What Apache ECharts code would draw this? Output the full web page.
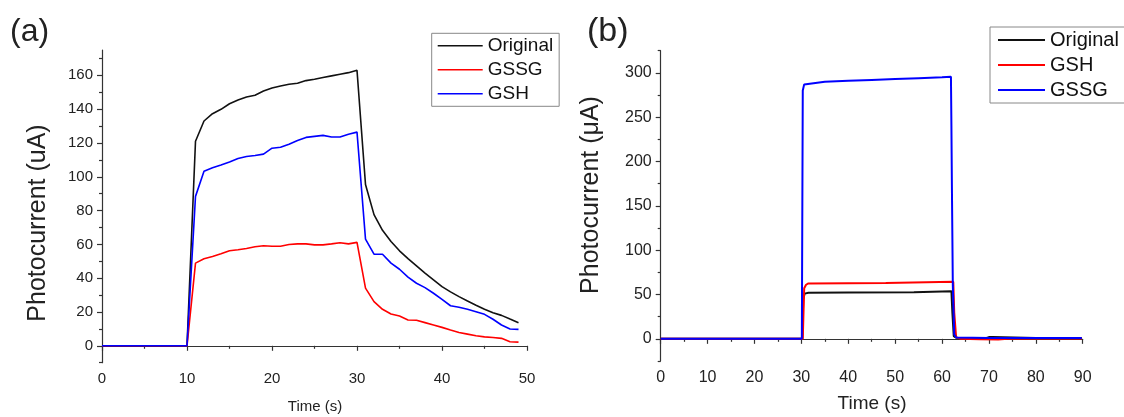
<!DOCTYPE html>
<html>
<head>
<meta charset="utf-8">
<script src="https://cdn.jsdelivr.net/npm/echarts@6/dist/echarts.min.js"></script>
<style>html,body{margin:0;padding:0;background:#fff;}#chart{width:1124px;height:417px;}</style>
</head>
<body>
<div id="chart"></div>
<script>
// ---------- Panel (a) data ----------
const timeA = [0,1,2,3,4,5,6,7,8,9,10,11,12,13,14,15,16,17,18,19,20,21,22,23,24,25,26,27,28,29,30,31,32,33,34,35,36,37,38,39,40,41,42,43,44,45,46,47,48,49];
const originalA = [0,0,0,0,0,0,0,0,0,0,0,
  121,133,137.3,139.9,143.2,145.4,147.2,148.2,150.7,152.5,153.7,154.7,155.3,156.9,157.7,158.7,159.7,160.7,161.6,163.0,
  95.4,77.6,68.3,61.7,56.2,51.6,47.3,43.0,39.0,35.0,31.9,29.1,26.5,24.0,21.6,19.6,18.0,15.8,13.7];
const gssgA = [0,0,0,0,0,0,0,0,0,0,0,
  48.9,51.5,52.8,54.4,56.2,56.8,57.6,58.6,59.2,58.9,58.9,59.9,60.3,60.3,59.7,59.7,60.3,61.0,60.3,61.2,
  34.1,26.1,21.6,18.8,17.6,15.3,15.1,13.7,12.3,10.9,9.3,7.9,6.9,5.9,5.3,4.9,4.4,2.4,2.2];
const gshA = [0,0,0,0,0,0,0,0,0,0,0,
  88.4,103.3,105.3,107.0,108.8,110.8,112.0,112.6,113.4,116.9,117.5,119.3,121.5,123.3,123.9,124.5,123.5,123.5,125.2,126.4,
  63.1,54.2,54.2,48.9,45.3,40.6,37.0,34.4,31.1,27.5,23.7,22.8,21.6,20.2,18.6,15.7,12.3,9.9,9.7];
const yMajorA = [0,20,40,60,80,100,120,140,160];
const yMinorA = [-10,10,30,50,70,90,110,130,150,170];

// ---------- Panel (b) data ----------
const originalBt = [0,30.2,30.4,30.7,31.5,40,54,54.3,62.0,62.2,62.5,63,65,69.5,70,70.8,71,80,89.8];
const originalBv = [0,0,45,51,52,52.3,52.5,53.5,53.8,30,3,1.2,1,1,2,2,1,1,1];
const gshBt = [0,30.3,30.6,31,31.5,40,48,48.3,62.4,62.6,63,64,68,72,74,80,89.8];
const gshBv = [0,0,57,61,62.5,62.8,63,64,64.3,30,2,0,-0.5,-0.7,0,0.5,0.5];
const gssgBt = [0,30.1,30.3,30.6,31,35,40,45,50,55,60,61.9,62.0,62.1,62.3,62.6,63,70,80,89.8];
const gssgBv = [0,0,280,287,289,290,291,292,293,294,295,295.5,240,175,60,5,1.5,1,1,1];
const yMajorB = [0,50,100,150,200,250,300];
const yMinorB = [-25,25,75,125,175,225,275,325];

const FONT = 'Liberation Sans, Arial, sans-serif';
const AX = '#333';
const BLACK = '#111111', RED = '#ff0000', BLUE = '#0000ff';

function pairs(t, v) { return t.map((x, i) => [x, v[i]]); }

function xAxisOf(grid, max, fs) {
  return {
    gridIndex: grid, type: 'value', min: 0, max: max, interval: 10, position: 'bottom',
    axisLine: {show: true, lineStyle: {color: AX, width: 1.2}},
    axisTick: {show: true, length: 5, lineStyle: {color: AX, width: 1.2}},
    minorTick: {show: true, splitNumber: 2, length: 3, lineStyle: {color: AX, width: 1.2}},
    splitLine: {show: false}, minorSplitLine: {show: false},
    axisLabel: {fontSize: fs, color: '#222', margin: 9, fontFamily: FONT}
  };
}
function yAxisMajor(grid, min, max, vals, fs) {
  return {
    gridIndex: grid, type: 'value', min: min, max: max, position: 'left',
    axisLine: {show: true, lineStyle: {color: AX, width: 1.2}},
    axisTick: {show: true, length: 5, customValues: vals, lineStyle: {color: AX, width: 1.2}},
    axisLabel: {show: true, customValues: vals, fontSize: fs, color: '#222', margin: 9, fontFamily: FONT},
    splitLine: {show: false}
  };
}
function yAxisMinor(grid, min, max, vals) {
  return {
    gridIndex: grid, type: 'value', min: min, max: max, position: 'left',
    axisLine: {show: false},
    axisTick: {show: true, length: 3, customValues: vals, lineStyle: {color: AX, width: 1.2}},
    axisLabel: {show: false},
    splitLine: {show: false}
  };
}
function line(name, xi, yi, data, color, w) {
  return {
    type: 'line', name: name, xAxisIndex: xi, yAxisIndex: yi, data: data,
    symbol: 'none', showSymbol: false, color: color,
    lineStyle: {color: color, width: w}, itemStyle: {color: color}, z: 3
  };
}

const chart = echarts.init(document.getElementById('chart'), null, {renderer: 'canvas'});
chart.setOption({
  animation: false,
  backgroundColor: '#ffffff',
  textStyle: {fontFamily: FONT},
  grid: [
    {left: 102, top: 50, width: 425, height: 312.7},
    {left: 660.7, top: 50.7, width: 422, height: 310.3}
  ],
  xAxis: [xAxisOf(0, 50, 15), xAxisOf(1, 90, 16)],
  yAxis: [
    yAxisMajor(0, -10, 175, yMajorA, 15),
    yAxisMinor(0, -10, 175, yMinorA),
    yAxisMajor(1, -25, 325, yMajorB, 16),
    yAxisMinor(1, -25, 325, yMinorB)
  ],
  legend: [
    {
      data: ['a:Original', 'a:GSSG', 'a:GSH'], formatter: n => n.slice(2),
      left: 431.7, top: 33.3, orient: 'vertical', selectedMode: false,
      borderColor: '#888', borderWidth: 1, backgroundColor: '#fff',
      icon: 'rect', itemWidth: 45, itemHeight: 1.6, itemGap: 5,
      padding: [3, 6, 3, 6],
      textStyle: {fontSize: 19, lineHeight: 19, color: '#111', fontFamily: FONT}
    },
    {
      data: ['b:Original', 'b:GSH', 'b:GSSG'], formatter: n => n.slice(2),
      left: 990, top: 27, orient: 'vertical', selectedMode: false,
      borderColor: '#888', borderWidth: 1, backgroundColor: '#fff',
      icon: 'rect', itemWidth: 47, itemHeight: 1.8, itemGap: 5,
      padding: [3, 6, 3, 8],
      textStyle: {fontSize: 20, lineHeight: 20, color: '#111', fontFamily: FONT}
    }
  ],
  graphic: [
    {type: 'text', x: 10, y: 32, style: {text: '(a)', font: '32px ' + FONT, fill: '#222', textAlign: 'left', textVerticalAlign: 'middle'}},
    {type: 'text', x: 587, y: 32, style: {text: '(b)', font: '34px ' + FONT, fill: '#222', textAlign: 'left', textVerticalAlign: 'middle'}},
    {type: 'text', x: 38, y: 223, rotation: Math.PI / 2, style: {text: 'Photocurrent (uA)', font: '25px ' + FONT, fill: '#222', textAlign: 'center', textVerticalAlign: 'middle'}},
    {type: 'text', x: 591, y: 195, rotation: Math.PI / 2, style: {text: 'Photocurrent (μA)', font: '25px ' + FONT, fill: '#222', textAlign: 'center', textVerticalAlign: 'middle'}},
    {type: 'text', x: 315, y: 407, style: {text: 'Time (s)', font: '15px ' + FONT, fill: '#222', textAlign: 'center', textVerticalAlign: 'middle'}},
    {type: 'text', x: 872, y: 404, style: {text: 'Time (s)', font: '19px ' + FONT, fill: '#222', textAlign: 'center', textVerticalAlign: 'middle'}}
  ],
  series: [
    line('a:Original', 0, 0, pairs(timeA, originalA), BLACK, 1.6),
    line('a:GSSG', 0, 0, pairs(timeA, gssgA), RED, 1.6),
    line('a:GSH', 0, 0, pairs(timeA, gshA), BLUE, 1.6),
    line('b:Original', 1, 2, pairs(originalBt, originalBv), BLACK, 2),
    line('b:GSH', 1, 2, pairs(gshBt, gshBv), RED, 2),
    line('b:GSSG', 1, 2, pairs(gssgBt, gssgBv), BLUE, 2)
  ]
});
</script>
</body>
</html>
